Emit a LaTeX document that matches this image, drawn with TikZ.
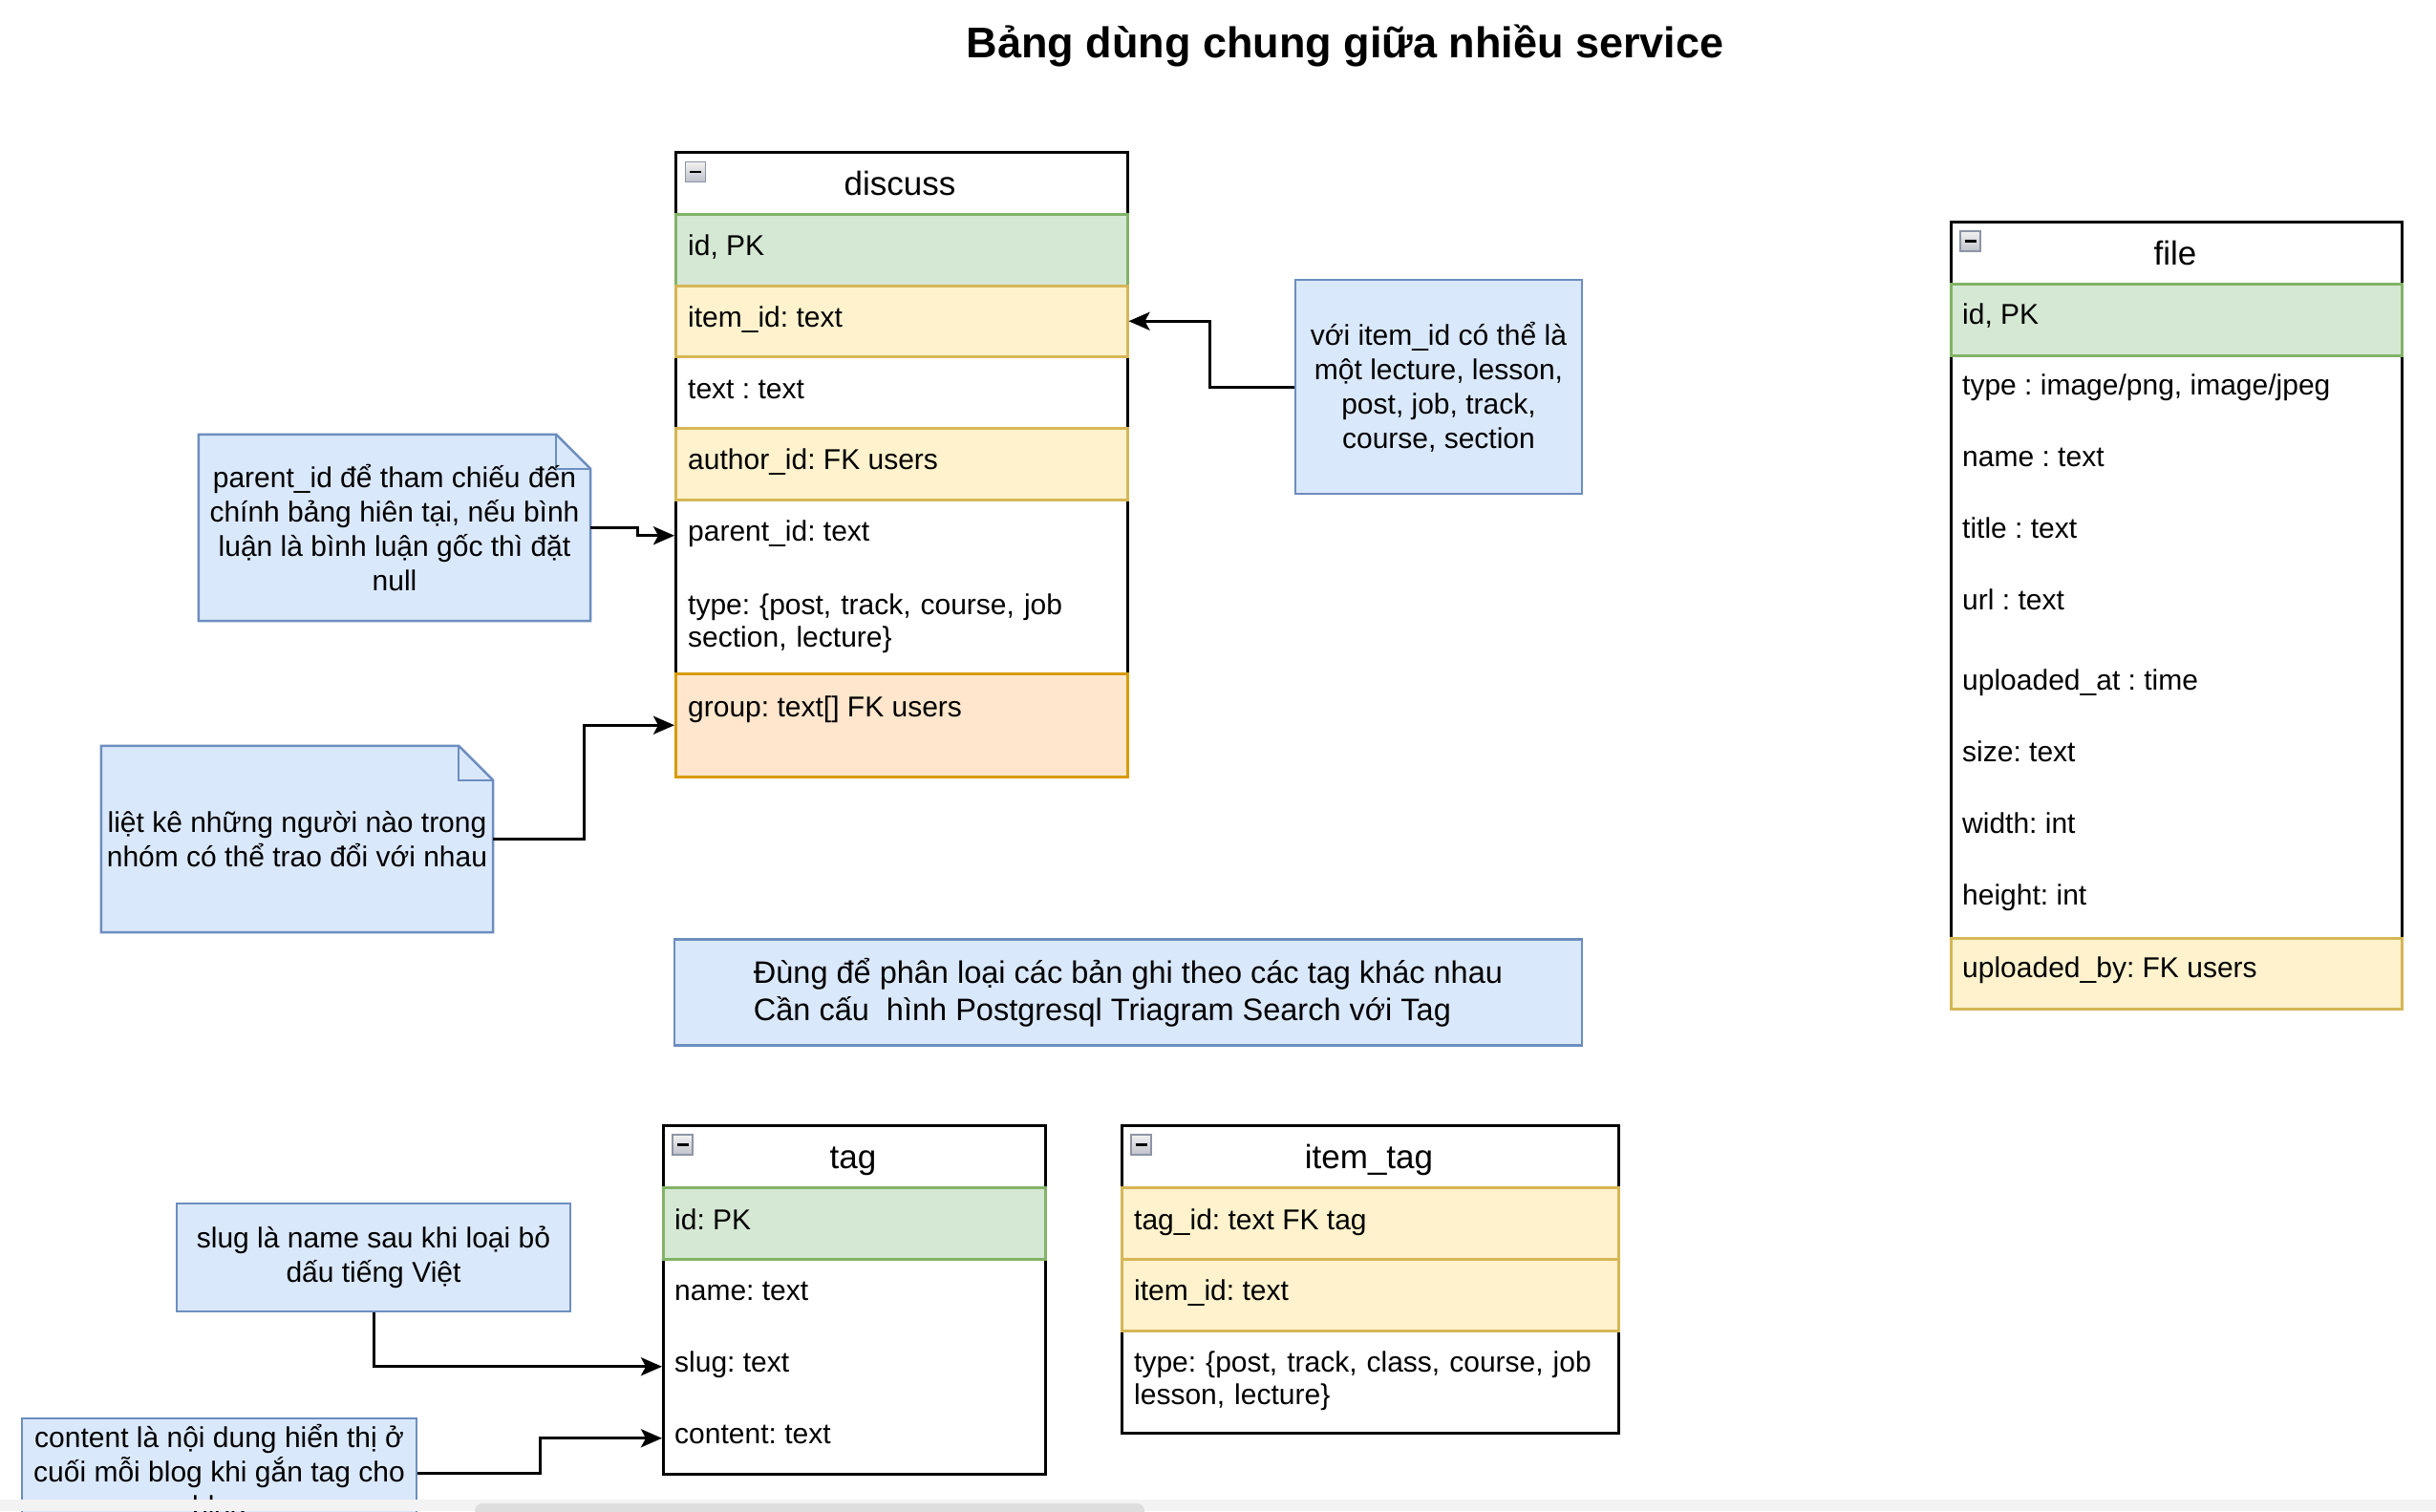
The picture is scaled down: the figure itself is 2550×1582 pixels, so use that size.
\documentclass[tikz,border=0pt]{standalone}
\usepackage{fontspec}
\setmainfont{Liberation Sans}
\usetikzlibrary{arrows.meta,backgrounds}
\definecolor{gFill}{HTML}{D5E8D4}\definecolor{gLine}{HTML}{82B366}
\definecolor{yFill}{HTML}{FFF2CC}\definecolor{yLine}{HTML}{D6B656}
\definecolor{oFill}{HTML}{FFE6CC}\definecolor{oLine}{HTML}{D79B00}
\definecolor{bFill}{HTML}{DAE8FC}\definecolor{bLine}{HTML}{6C8EBF}
\definecolor{iconLine}{HTML}{8E94A6}
\definecolor{iconTop}{HTML}{F2F2F2}
\definecolor{iconBot}{HTML}{BFC1CA}
\definecolor{barBand}{HTML}{F3F3F3}
\definecolor{barThumb}{HTML}{DEDEDE}
\tikzset{
  tbl/.style={draw=black, line width=2.5pt, fill=white, inner sep=0pt, anchor=north west},
  rowbox/.style={inner sep=0pt, anchor=north west, line width=2.5pt},
  rowG/.style={rowbox, fill=gFill, draw=gLine},
  rowY/.style={rowbox, fill=yFill, draw=yLine},
  rowO/.style={rowbox, fill=oFill, draw=oLine},
  rowW/.style={rowbox},
  ftxt/.style={font=\fontsize{30}{34}\selectfont, inner sep=0pt, anchor=base west},
  htxt/.style={font=\fontsize{35}{40}\selectfont, inner sep=0pt, anchor=base},
  notebox/.style={fill=bFill, draw=bLine, line width=2.5pt, inner sep=0pt, align=center, font=\fontsize{30}{36}\selectfont},
  foldnote/.style={inner sep=0pt, align=center, font=\fontsize{30}{36}\selectfont},
  conn/.style={line width=3pt, -{Stealth[length=22pt,width=19pt,inset=5pt]}},
  minusbox/.style={minimum width=21pt, minimum height=21pt, inner sep=0pt, draw=iconLine, line width=1.5pt, top color=iconTop, bottom color=iconBot},
  dashline/.style={line width=2.5pt},
}
\begin{document}
\frenchspacing
\begin{tikzpicture}[x=1pt,y=-1pt]
\useasboundingbox (0,0) rectangle (2550,1582);

% title
\node[font=\bfseries\fontsize{45}{50}\selectfont, inner sep=0pt, anchor=base] (title) at (1408,60) {Bảng dùng chung giữa nhiều service};

% ---------------- discuss ----------------
\node[tbl, minimum width=473, minimum height=654] (discuss) at (706,158) {};
\node[rowG, minimum width=473, minimum height=75] (dId) at (706,223) {};
\node[rowY, minimum width=473, minimum height=74] (dItem) at (706,298) {};
\node[rowW, minimum width=473, minimum height=75] (dText) at (706,372) {};
\node[rowY, minimum width=473, minimum height=75] (dAuthor) at (706,447) {};
\node[rowW, minimum width=473, minimum height=75] (dParent) at (706,522) {};
\node[rowW, minimum width=473, minimum height=107] (dType) at (706,597) {};
\node[rowO, minimum width=473, minimum height=108] (dGroup) at (706,704) {};
\node[htxt] (dHead) at (942,204) {discuss};
\node[minusbox] (dMin) at (728,180) {};
\draw[dashline] ([xshift=-6pt]dMin.center) -- ([xshift=6pt]dMin.center);
\node[ftxt] (dIdT) at (720,267) {id, PK};
\node[ftxt] (dItemT) at (720,342) {item\_id: text};
\node[ftxt] (dTextT) at (720,417) {text : text};
\node[ftxt] (dAuthorT) at (720,491) {author\_id: FK users};
\node[ftxt] (dParentT) at (720,566) {parent\_id: text};
\node[ftxt, text width=440, align=left] (dTypeT) at (720,643) {type: \{post, track, course, job\\section, lecture\}};
\node[ftxt] (dGroupT) at (720,750) {group: text[] FK users};

% ---------------- file ----------------
\node[tbl, minimum width=472, minimum height=824] (file) at (2041,231) {};
\node[rowG, minimum width=472, minimum height=75] (fId) at (2041,296) {};
\node[rowY, minimum width=472, minimum height=74] (fUp) at (2041,981) {};
\node[htxt] (fHead) at (2277,277) {file};
\node[minusbox] (fMin) at (2062.5,252.5) {};
\draw[dashline] ([xshift=-6pt]fMin.center) -- ([xshift=6pt]fMin.center);
\node[ftxt] (fIdT) at (2054,339) {id, PK};
\node[ftxt] (fTypeT) at (2054,413) {type : image/png, image/jpeg};
\node[ftxt] (fNameT) at (2054,488) {name : text};
\node[ftxt] (fTitleT) at (2054,563) {title : text};
\node[ftxt] (fUrlT) at (2054,638) {url : text};
\node[ftxt] (fAtT) at (2054,722) {uploaded\_at : time};
\node[ftxt] (fSizeT) at (2054,797) {size: text};
\node[ftxt] (fWidthT) at (2054,872) {width: int};
\node[ftxt] (fHeightT) at (2054,947) {height: int};
\node[ftxt] (fUpT) at (2054,1023) {uploaded\_by: FK users};

% ---------------- tag ----------------
\node[tbl, minimum width=400, minimum height=365] (tag) at (693,1177) {};
\node[rowG, minimum width=400, minimum height=75] (tId) at (693,1242) {};
\node[rowW, minimum width=400, minimum height=75] (tName) at (693,1317) {};
\node[rowW, minimum width=400, minimum height=75] (tSlug) at (693,1392) {};
\node[rowW, minimum width=400, minimum height=75] (tContent) at (693,1467) {};
\node[htxt] (tHead) at (893,1223) {tag};
\node[minusbox] (tMin) at (714.5,1198.5) {};
\draw[dashline] ([xshift=-6pt]tMin.center) -- ([xshift=6pt]tMin.center);
\node[ftxt] (tIdT) at (706,1287) {id: PK};
\node[ftxt] (tNameT) at (706,1361) {name: text};
\node[ftxt] (tSlugT) at (706,1436) {slug: text};
\node[ftxt] (tContentT) at (706,1511) {content: text};

% ---------------- item_tag ----------------
\node[tbl, minimum width=520, minimum height=322] (itemtag) at (1173,1177) {};
\node[rowY, minimum width=520, minimum height=75] (itTag) at (1173,1242) {};
\node[rowY, minimum width=520, minimum height=75] (itItem) at (1173,1317) {};
\node[rowW, minimum width=520, minimum height=107] (itType) at (1173,1392) {};
\node[htxt] (itHead) at (1433,1223) {item\_tag};
\node[minusbox] (itMin) at (1194.5,1198.5) {};
\draw[dashline] ([xshift=-6pt]itMin.center) -- ([xshift=6pt]itMin.center);
\node[ftxt] (itTagT) at (1187,1287) {tag\_id: text FK tag};
\node[ftxt] (itItemT) at (1187,1361) {item\_id: text};
\node[ftxt, text width=500, align=left] (itTypeT) at (1187,1436) {type: \{post, track, class, course, job\\lesson, lecture\}};

% ---------------- notes ----------------
\node[notebox, minimum width=300, minimum height=224] (nItem) at (1506,405)
  {với item\_id có thể là\\một lecture, lesson,\\post, job, track,\\course, section};
\node[foldnote, minimum width=410, minimum height=195] (nP) at (413,552.5)
  {parent\_id để tham chiếu đến\\chính bảng hiên tại, nếu bình\\luận là bình luận gốc thì đặt\\null};
\node[foldnote, minimum width=410, minimum height=195] (nG) at (311,878.5)
  {liệt kê những người nào trong\\nhóm có thể trao đổi với nhau};
\node[notebox, align=left, minimum width=950, minimum height=111, font=\fontsize{32.5}{39}\selectfont] (nTag) at (1181,1039)
  {Đùng để phân loại các bản ghi theo các tag khác nhau\\Cần cấu~ hình Postgresql Triagram Search với Tag};
\node[notebox, minimum width=412, minimum height=113] (nSlug) at (391,1316.5)
  {slug là name sau khi loại bỏ\\dấu tiếng Việt};
\node[notebox, minimum width=413, minimum height=114] (nContent) at (229.5,1542)
  {content là nội dung hiển thị ở\\cuối mỗi blog khi gắn tag cho\\blog};

% ---------------- connectors ----------------
\draw[conn] (nItem.west) -- ++(-88,0) |- (dItem.east);
\draw[conn] (nP.east) -- ++(49,0) |- (dParent.west);
\draw[conn] (nG.east) -- ++(95,0) |- (dGroup.west);
\draw[conn] (nSlug.south) |- (tSlug.west);
\draw[conn] (nContent.east) -- ++(128,0) |- (tContent.west);

% ---------------- scrollbar ----------------
\fill[barBand] (0,1570) rectangle (2550,1582);
\fill[barThumb, rounded corners=8pt] (497,1574) rectangle (1198,1600);

% ---------------- background: page + folded notes ----------------
\begin{scope}[on background layer]
  \fill[white] (0,0) rectangle (2550,1582);
  \foreach \n in {nP,nG}{
    \filldraw[fill=bFill, draw=bLine, line width=2.5pt, line join=miter]
      (\n.north west) -- ([xshift=-36pt]\n.north east) -- ([yshift=-36pt]\n.north east)
      -- (\n.south east) -- (\n.south west) -- cycle;
    \draw[bLine, line width=2.5pt]
      ([xshift=-36pt]\n.north east) -- ([xshift=-36pt,yshift=-36pt]\n.north east) -- ([yshift=-36pt]\n.north east);
  }
\end{scope}
\end{tikzpicture}
\end{document}
